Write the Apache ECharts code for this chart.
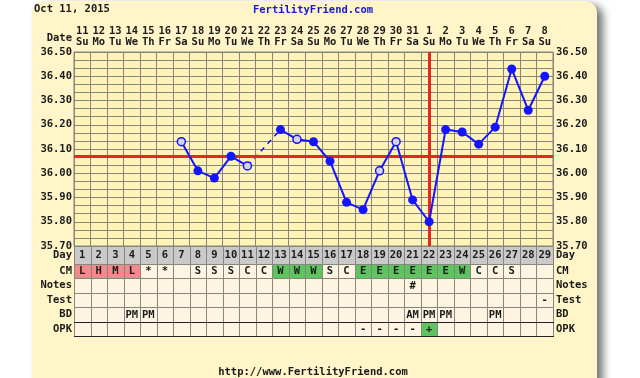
<!DOCTYPE html>
<html><head><meta charset="utf-8">
<script src="https://cdn.jsdelivr.net/npm/echarts@6/dist/echarts.min.js"></script>
<style>html,body{margin:0;padding:0;background:#fff}#c{width:640px;height:378px}</style>
</head><body><div id="c"></div>
<script>
// ---- data ----
const days = ['1','2','3','4','5','6','7','8','9','10','11','12','13','14','15','16','17','18','19','20','21','22','23','24','25','26','27','28','29'];
const dates = ['11','12','13','14','15','16','17','18','19','20','21','22','23','24','25','26','27','28','29','30','31','1','2','3','4','5','6','7','8'];
const weekdays = ['Su','Mo','Tu','We','Th','Fr','Sa','Su','Mo','Tu','We','Th','Fr','Sa','Su','Mo','Tu','We','Th','Fr','Sa','Su','Mo','Tu','We','Th','Fr','Sa','Su'];
const temps = [null,null,null,null,null,null,36.13,36.01,35.98,36.07,36.03,null,36.18,36.14,36.13,36.05,35.88,35.85,36.01,36.13,35.89,35.80,36.18,36.17,36.12,36.19,36.43,36.26,36.40];
const openDays = [7,11,14,19,20];
const missingDays = [12];
const coverline = 36.07;
const ovulationDay = 22;
const tempMin = 35.70, tempMax = 36.50, tempStep = 0.10;
const rowNames = ['CM','Notes','Test','BD','OPK'];
const cm    = ['L','H','M','L','*','*','','S','S','S','C','C','W','W','W','S','C','E','E','E','E','E','E','W','C','C','S','',''];
const notes = ['','','','','','','','','','','','','','','','','','','','','#','','','','','','','',''];
const test  = ['','','','','','','','','','','','','','','','','','','','','','','','','','','','','-'];
const bd    = ['','','','PM','PM','','','','','','','','','','','','','','','','AM','PM','PM','','','PM','','',''];
const opk   = ['','','','','','','','','','','','','','','','','','-','-','-','-','+','','','','','','',''];
const flowDays = [1,2,3,4];
const fertileCM = ['W','E'];

// ---- styles ----
const FONT = 'DejaVu Sans Mono';
const INK = '#1a1a1a';
const GRIDC = '#86867e';
const PANEL = '#FFF5C8';
const PLOT = '#FFF3B6';
const CELL = '#FDF5E2';
const DAYBG = '#C9C9C9';
const PINK = '#F2898C';
const GREEN = '#5DC45F';
const BLUE = '#1414FF';
const RED = '#E22A22';
const lbl = {fontFamily: FONT, fontWeight: 'bold', fontSize: 10.5, color: INK};

const rowData = [cm, notes, test, bd, opk];
const tableCells = [];
rowData.forEach((arr, r) => {
  arr.forEach((t, i) => {
    let fill = CELL;
    if (r === 0 && flowDays.includes(i + 1) && t) fill = PINK;
    else if (r === 0 && fertileCM.includes(t)) fill = GREEN;
    else if (r === 4 && t === '+') fill = GREEN;
    tableCells.push({pos: [i, r], text: t, fill: fill});
  });
});
const dayCells = days.map((d, i) => ({pos: [i, 0], text: d, fill: DAYBG}));

const tempSeries = temps.map((v, i) => {
  if (v == null) return null;
  if (openDays.includes(i + 1)) {
    return {value: v, symbol: 'circle', symbolSize: 8,
      itemStyle: {color: '#d4d4f0', borderColor: BLUE, borderWidth: 1.5}};
  }
  return v;
});
const bridge = temps.map((v, i) => {
  const d = i + 1;
  const near = missingDays.some(m => m === d - 1 || m === d + 1);
  return near ? v : null;
});

function cellRender(cells) {
  return function (params, api) {
    const c = cells[params.dataIndex];
    const p = api.coord(c.pos);
    const s = api.size([1, 1]);
    const x0 = Math.round(p[0] - s[0] / 2) + 0.5, y0 = Math.round(p[1] - s[1] / 2) + 0.5;
    const x1 = Math.round(p[0] + s[0] / 2) + 0.5, y1 = Math.round(p[1] + s[1] / 2) + 0.5;
    const children = [
      {type: 'rect', shape: {x: x0, y: y0, width: x1 - x0, height: y1 - y0},
        style: {fill: c.fill, stroke: GRIDC, lineWidth: 1}},
      {type: 'text', style: {text: c.text, x: p[0], y: p[1] + 0.5, align: 'center', verticalAlign: 'middle',
        font: 'bold 10.5px "' + FONT + '"', fill: INK}}
    ];
    if (cells === tableCells && c.pos[1] === 4) {
      children.push({type: 'line', shape: {x1: x0 - 0.5, y1: y0, x2: x1 + 0.5, y2: y0}, style: {stroke: '#222', lineWidth: 1}});
      children.push({type: 'line', shape: {x1: x0 - 0.5, y1: y1, x2: x1 + 0.5, y2: y1}, style: {stroke: '#222', lineWidth: 1}});
    }
    return {type: 'group', children: children};
  };
}

const chart = echarts.init(document.getElementById('c'));
const hidden = {axisLine: {show: false}, axisTick: {show: false}};
chart.setOption({
  animation: false,
  graphic: [
    {type: 'rect', z: -10, shape: {x: 32, y: 1, width: 565, height: 400, r: 12},
      style: {fill: PANEL, shadowBlur: 8, shadowOffsetX: 6, shadowOffsetY: 4, shadowColor: 'rgba(0,0,0,0.55)'}},
    {type: 'text', left: 34, top: 4, style: {text: 'Oct 11, 2015', font: 'bold 10.5px "' + FONT + '"', fill: INK}},
    {type: 'text', x: 313, y: 10, style: {text: 'FertilityFriend.com', align: 'center', verticalAlign: 'middle', font: 'bold 10.5px "' + FONT + '"', fill: '#1818D8'}},
    {type: 'text', x: 72, y: 38, style: {text: 'Date', align: 'right', verticalAlign: 'middle', font: 'bold 10.5px "' + FONT + '"', fill: INK}},
    {type: 'text', x: 313, y: 372, style: {text: 'http://www.FertilityFriend.com', align: 'center', verticalAlign: 'middle', font: 'bold 10.5px "' + FONT + '"', fill: INK}}
  ],
  grid: [
    {left: 74, right: 87, top: 52, height: 194, show: true, backgroundColor: PLOT, borderColor: GRIDC, borderWidth: 1},
    {left: 74, right: 87, top: 246, height: 18},
    {left: 74, right: 87, top: 264, height: 72}
  ],
  xAxis: [
    {type: 'category', gridIndex: 0, data: days, boundaryGap: true, ...hidden, axisLabel: {show: false},
      splitLine: {show: true, interval: 0, lineStyle: {color: GRIDC, width: 1}}},
    {type: 'category', gridIndex: 0, position: 'top', offset: 11, data: dates, ...hidden,
      axisLabel: {interval: 0, margin: 4, ...lbl}},
    {type: 'category', gridIndex: 0, position: 'top', offset: 0, data: days, ...hidden,
      axisLabel: {interval: 0, margin: 4, ...lbl, formatter: (v, i) => weekdays[i]}},
    {type: 'category', gridIndex: 1, data: days, ...hidden, axisLabel: {show: false}},
    {type: 'category', gridIndex: 2, data: days, ...hidden, axisLabel: {show: false}}
  ],
  yAxis: [
    {type: 'value', gridIndex: 0, min: tempMin, max: tempMax, interval: tempStep, position: 'left', ...hidden,
      splitLine: {show: false}, axisLabel: {margin: 2, ...lbl, formatter: v => v.toFixed(2)}},
    {type: 'value', gridIndex: 0, min: tempMin, max: tempMax, interval: tempStep, position: 'right', ...hidden,
      splitLine: {show: false}, axisLabel: {margin: 3, ...lbl, formatter: v => v.toFixed(2)}},
    {type: 'value', gridIndex: 0, min: 0, max: 24, interval: 1, ...hidden, axisLabel: {show: false},
      splitLine: {show: true, lineStyle: {color: GRIDC, width: 1}}},
    {type: 'category', gridIndex: 1, data: ['Day'], position: 'left', ...hidden, axisLabel: {margin: 2, ...lbl}},
    {type: 'category', gridIndex: 1, data: ['Day'], position: 'right', ...hidden, axisLabel: {margin: 3, ...lbl, align: 'left'}},
    {type: 'category', gridIndex: 2, data: rowNames, inverse: true, position: 'left', ...hidden, axisLabel: {margin: 2, ...lbl}},
    {type: 'category', gridIndex: 2, data: rowNames, inverse: true, position: 'right', ...hidden, axisLabel: {margin: 3, ...lbl, align: 'left'}}
  ],
  series: [
    {type: 'line', xAxisIndex: 0, yAxisIndex: 0, data: [], z: 3, silent: true,
      markLine: {symbol: 'none', silent: true, label: {show: false},
        lineStyle: {color: RED, width: 3, type: 'solid'},
        data: [{yAxis: coverline}, {xAxis: ovulationDay - 1}]}},
    {type: 'line', xAxisIndex: 0, yAxisIndex: 0, data: bridge, z: 4, showSymbol: false, connectNulls: true,
      lineStyle: {color: BLUE, width: 1.5, type: [5, 5]}},
    {type: 'line', xAxisIndex: 0, yAxisIndex: 0, data: tempSeries, z: 5, connectNulls: false,
      symbol: 'circle', symbolSize: 9, itemStyle: {color: BLUE}, lineStyle: {color: BLUE, width: 2}},
    {type: 'custom', xAxisIndex: 3, yAxisIndex: 3, data: dayCells.map(c => c.pos), renderItem: cellRender(dayCells)},
    {type: 'custom', xAxisIndex: 4, yAxisIndex: 5, data: tableCells.map(c => c.pos), renderItem: cellRender(tableCells)}
  ]
});
</script></body></html>
